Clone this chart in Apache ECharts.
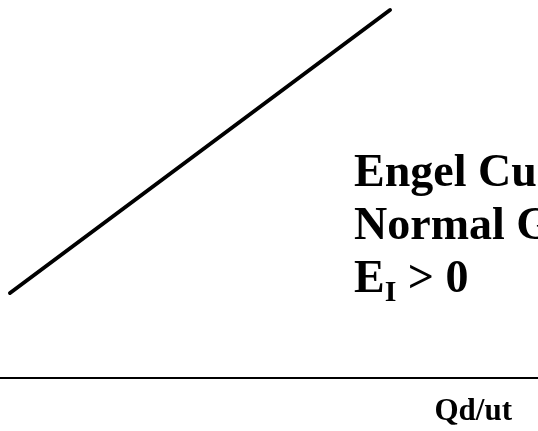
<!DOCTYPE html>
<html style="height:100%;width:100%;">
<head>
  <meta charset="utf-8">
  <title>Engel Curve</title>
  <script src="https://cdn.jsdelivr.net/npm/echarts@6/dist/echarts.min.js"></script>
</head>
<body style="margin:0px;height:100%;width:100%;">
  <div id="main" style="width:538px;height:431px"></div>
  <script type="text/javascript">
    // data (x = income, y = quantity demanded), in axis units
    var curveX = [10, 390];
    var curveY = [85, 368];
    var labelLines = ['Engel Curve', 'Normal Good'];
    var axisName = 'Qd/ut';

    var curveData = curveX.map(function (x, i) { return [x, curveY[i]]; });

    var serif = '"Liberation Serif", "Times New Roman", serif';
    var myChart = echarts.init(document.getElementById('main'));
    var option = {
      backgroundColor: '#fff',
      animation: false,
      grid: { left: 0, right: 0, top: 0, bottom: 53 },
      xAxis: {
        type: 'value', min: 0, max: 538,
        axisLine: { show: true, lineStyle: { color: '#000', width: 2 } },
        axisTick: { show: false },
        axisLabel: { show: false },
        splitLine: { show: false },
        name: axisName,
        nameLocation: 'end',
        nameGap: -26,
        nameTextStyle: {
          fontFamily: serif, fontWeight: 'bold', fontSize: 31, color: '#000',
          align: 'right', verticalAlign: 'top', padding: [18, 0, 0, 0]
        }
      },
      yAxis: {
        type: 'value', min: 0, max: 378,
        axisLine: { show: false },
        axisTick: { show: false },
        axisLabel: { show: false },
        splitLine: { show: false }
      },
      graphic: [{
        type: 'text',
        left: 354, top: 148,
        style: {
          text: labelLines.join('\n') + '\n{e|E}{s|I}{e| > 0}',
          font: 'bold 46px ' + serif,
          lineHeight: 53,
          fill: '#000',
          rich: {
            e: { fontFamily: serif, fontWeight: 'bold', fontSize: 46, lineHeight: 53, fill: '#000' },
            s: { fontFamily: serif, fontWeight: 'bold', fontSize: 30, lineHeight: 53, fill: '#000', padding: [26, 0, 0, 0] }
          }
        }
      }],
      series: [{
        type: 'line',
        data: curveData,
        symbol: 'none',
        lineStyle: { color: '#000', width: 4, cap: 'round' }
      }]
    };
    myChart.setOption(option);
  </script>
</body>
</html>
